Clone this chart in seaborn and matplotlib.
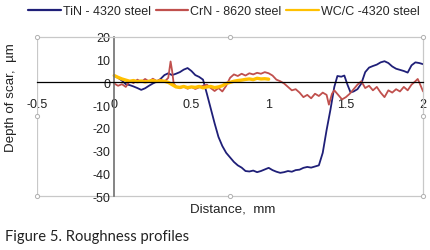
import numpy as np
import matplotlib
matplotlib.use("Agg")
import matplotlib.pyplot as plt
import pandas as pd
import seaborn as sns

# profile data (distance in mm, depth in um)
tin_x = [0.0, 0.025, 0.05, 0.075, 0.1, 0.125, 0.15, 0.175, 0.2, 0.225, 0.25, 0.275,
         0.3, 0.325, 0.35, 0.375, 0.4, 0.425, 0.45, 0.475, 0.5, 0.525, 0.55, 0.575,
         0.6, 0.625, 0.65, 0.675, 0.7, 0.725, 0.75, 0.775, 0.8, 0.825, 0.85, 0.875,
         0.9, 0.925, 0.95, 0.975, 1.0, 1.025, 1.05, 1.075, 1.1, 1.125, 1.15, 1.175,
         1.2, 1.225, 1.25, 1.275, 1.3, 1.325, 1.35, 1.375, 1.4, 1.425, 1.445, 1.47,
         1.49, 1.51, 1.53, 1.55, 1.575, 1.6, 1.625, 1.65, 1.675, 1.7, 1.725, 1.75,
         1.775, 1.8, 1.825, 1.85, 1.875, 1.9, 1.925, 1.95, 1.975, 2.0]
tin_y = [2.8, 2.0, 0.8, -0.8, -1.2, -1.8, -2.5, -3.3, -2.6, -1.5, -0.5, 0.3,
         1.5, 3.2, 4.0, 3.2, 3.8, 4.5, 5.6, 6.3, 5.0, 3.2, 2.4, 1.2,
         -5.0, -11.5, -18.0, -24.0, -28.0, -31.0, -33.0, -35.0, -36.5, -37.5, -39.0, -39.2,
         -38.8, -39.5, -39.0, -38.3, -37.6, -38.6, -39.3, -39.8, -39.5, -39.0, -39.3, -38.6,
         -38.4, -37.6, -37.2, -37.5, -37.0, -36.5, -31.0, -21.0, -12.0, -2.0, 2.8, 2.5,
         3.0, -1.0, -4.4, -4.0, -3.0, -0.5, 4.5, 6.5, 7.2, 7.8, 8.8, 9.3,
         8.5, 7.0, 6.0, 5.5, 5.0, 4.3, 7.5, 8.8, 8.5, 8.0]

crn_x = [0.0, 0.025, 0.05, 0.075, 0.1, 0.125, 0.15, 0.175, 0.2, 0.225, 0.25, 0.275,
         0.3, 0.325, 0.35, 0.365, 0.375, 0.385, 0.4, 0.425, 0.45, 0.475, 0.5, 0.525,
         0.55, 0.575, 0.6, 0.625, 0.65, 0.675, 0.7, 0.725, 0.75, 0.775, 0.8, 0.825,
         0.85, 0.875, 0.9, 0.925, 0.95, 0.975, 1.0, 1.025, 1.05, 1.075, 1.1, 1.125,
         1.15, 1.175, 1.2, 1.225, 1.25, 1.275, 1.3, 1.325, 1.35, 1.375, 1.39, 1.41,
         1.425, 1.45, 1.475, 1.5, 1.525, 1.55, 1.575, 1.6, 1.625, 1.65, 1.675, 1.7,
         1.725, 1.75, 1.775, 1.8, 1.825, 1.85, 1.875, 1.9, 1.925, 1.95, 1.965, 1.975, 2.0]
crn_y = [-0.5, -1.5, -0.8, -2.0, 0.5, -0.3, 1.2, 0.2, 1.5, 0.4, 1.6, 0.6,
         1.2, 0.2, 2.0, 9.2, 5.0, -0.5, -1.8, -2.6, -1.8, -2.8, -2.0, -2.9,
         -2.2, -1.5, -1.0, -2.5, -3.8, -2.5, -4.0, -1.5, 2.0, 3.5, 2.8, 3.8,
         3.0, 4.0, 3.5, 4.2, 3.8, 4.5, 4.0, 3.0, 1.2, 0.5, -0.5, -2.0,
         -3.5, -3.0, -4.5, -6.5, -5.5, -7.0, -5.0, -6.0, -4.5, -5.5, -9.8, -5.0,
         -3.5, -5.5, -7.5, -6.5, -5.0, -3.0, -1.0, 0.5, -2.5, -1.5, -3.5, -2.0,
         -4.5, -6.5, -3.5, -4.5, -3.0, -4.0, -2.0, -3.5, -1.0, 0.5, 1.5, 0.0, -4.0]

wcc_x = [0.0, 0.025, 0.05, 0.075, 0.1, 0.125, 0.15, 0.175, 0.2, 0.225, 0.25, 0.275,
         0.3, 0.325, 0.35, 0.375, 0.4, 0.425, 0.45, 0.475, 0.5, 0.525, 0.55, 0.575,
         0.6, 0.625, 0.65, 0.675, 0.7, 0.725, 0.75, 0.775, 0.8, 0.825, 0.85, 0.875,
         0.9, 0.925, 0.95, 0.975, 1.0]
wcc_y = [3.0, 2.2, 1.5, 1.0, 0.5, 0.8, 0.3, 0.6, 0.2, 0.5, 0.8, 0.4,
         0.7, 0.5, 0.0, -1.0, -2.0, -2.2, -1.8, -2.3, -2.0, -2.2, -1.8, -2.4,
         -2.0, -1.8, -2.3, -2.0, -1.5, -0.5, 0.0, 0.5, 0.8, 1.0, 1.3, 1.5,
         1.2, 1.8, 1.5, 1.6, 1.4]

labels = ["TiN - 4320 steel", "CrN - 8620 steel", "WC/C -4320 steel"]
colors = ["#1f1f78", "#c0504d", "#ffc000"]
widths = [1.3, 1.3, 2.4]
x_ticks = [-0.5, 0, 0.5, 1, 1.5, 2]
y_ticks = [20, 10, 0, -10, -20, -30, -40, -50]

sns.set_style("white")
plt.rcParams["font.family"] = ["Liberation Sans", "DejaVu Sans"]

fig = plt.figure(figsize=(4.3, 2.51), dpi=100)
ax = fig.add_axes([0.086, 0.215, 0.898, 0.634])

series = [(tin_x, tin_y), (crn_x, crn_y), (wcc_x, wcc_y)]
for (xs, ys), lab, col, lw in zip(series, labels, colors, widths):
    df = pd.DataFrame({"x": xs, "y": ys})
    sns.lineplot(data=df, x="x", y="y", ax=ax, color=col, linewidth=lw,
                 label=lab, sort=False, estimator=None)

ax.set_xlim(-0.5, 2)
ax.set_ylim(-50, 20)
ax.set_xticks(x_ticks, ["-0.5", "0", "0.5", "1", "1.5", "2"])
ax.set_yticks(y_ticks, [str(v) for v in y_ticks])
ax.set_xlabel("")
ax.set_ylabel("")

# axes cross at the origin, outer frame in light grey
ax.spines["bottom"].set_position(("data", 0))
ax.spines["bottom"].set_color("black")
ax.spines["bottom"].set_linewidth(0.9)
ax.spines["left"].set_position(("data", 0))
ax.spines["left"].set_color("#6f6f6f")
ax.spines["left"].set_linewidth(1.2)
for s in ["top", "right"]:
    ax.spines[s].set_color("#c8c8c8")
    ax.spines[s].set_linewidth(0.9)
ax.axvline(-0.5, color="#c8c8c8", lw=0.9, zorder=0)
ax.axhline(-50, color="#c8c8c8", lw=0.9, zorder=0, clip_on=False)

# selection handles of the plot area
hx = [-0.5, 0.75, 2, -0.5, 2, -0.5, 0.75, 2]
hy = [20, 20, 20, -15, -15, -50, -50, -50]
ax.plot(hx, hy, ls="none", marker="o", ms=3, mfc="white", mec="#b0b0b0",
        mew=0.7, clip_on=False, zorder=5)

ax.tick_params(axis="x", length=0, pad=11, labelsize=9, colors="#222222")
ax.tick_params(axis="y", length=0, pad=3, labelsize=9, colors="#222222")

leg = ax.legend(loc="upper center", bbox_to_anchor=(0.521, 1.0), bbox_transform=fig.transFigure,
                ncol=3, frameon=False, fontsize=9.0, handlelength=2.6,
                handletextpad=0.15, columnspacing=0.4, borderaxespad=0.1)
for line in leg.get_lines():
    line.set_linewidth(1.6)

fig.text(233 / 430, 1 - 210 / 251, "Distance,  mm", ha="center", va="center",
         fontsize=9.6, color="#222222")
fig.text(11 / 430, 1 - 98 / 251, "Depth of scar,  µm", ha="center", va="center",
         rotation=90, fontsize=9.6, color="#222222")
fig.text(5 / 430, 1 - 237 / 251, "Figure 5. Roughness profiles", ha="left", va="center",
         fontsize=10.6, color="#222222", family=["Lato", "DejaVu Sans"])

fig.savefig("out.png", dpi=100)
